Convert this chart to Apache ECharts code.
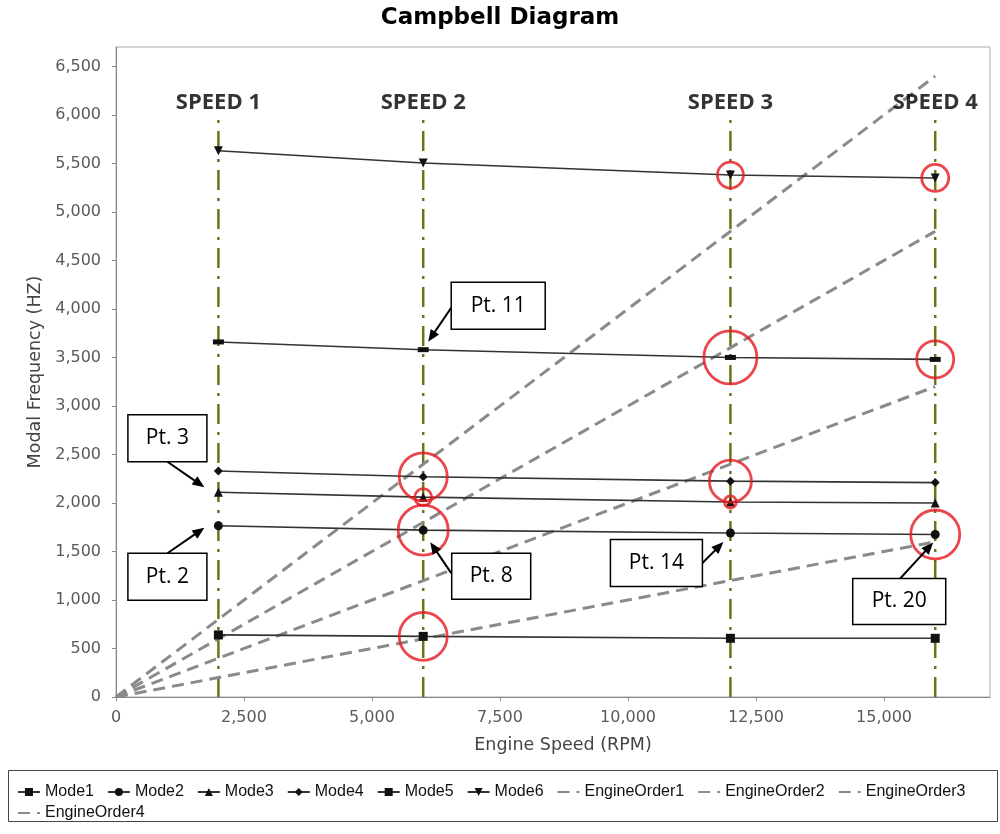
<!DOCTYPE html>
<html>
<head>
<meta charset="utf-8">
<title>Campbell Diagram</title>
<script src="https://cdn.jsdelivr.net/npm/echarts@6/dist/echarts.min.js"></script>
<style>
  html, body { margin: 0; padding: 0; background: #fff; }
  #chart { width: 1000px; height: 834px; }
</style>
</head>
<body>
<div id="chart"></div>
<script>
// engine speeds where the modes were computed (RPM)
const speeds = [2000, 6000, 12000, 16000]
const speedNames = ['SPEED 1', 'SPEED 2', 'SPEED 3', 'SPEED 4']
const speedLineTop = 5950

// modal frequencies (Hz) at each speed
const mode1 = [640, 625, 605, 605]
const mode2 = [1765, 1720, 1690, 1675]
const mode3 = [2110, 2060, 2010, 2000]
const mode4 = [2330, 2270, 2225, 2210]
const mode5 = [3660, 3580, 3500, 3480]
const mode6 = [5630, 5505, 5380, 5350]

// engine order lines (Hz at 0 and 16000 RPM)
const orderRpm = [0, 16000]
const order1 = [0, 1600]
const order2 = [0, 3200]
const order3 = [0, 4800]
const order4 = [0, 6400]

// circled crossings [rpm, hz]
const circled = [
  [6000, 625], [6000, 1720], [6000, 2060], [6000, 2270],
  [12000, 2010], [12000, 2225], [12000, 3500], [12000, 5380],
  [16000, 1675], [16000, 3480], [16000, 5350]
]

// callouts: text, which mode and which speed they point at
const calloutText = ['Pt. 2', 'Pt. 3', 'Pt. 8', 'Pt. 11', 'Pt. 14', 'Pt. 20']
const calloutMode = [1, 2, 1, 4, 1, 1]
const calloutSpeed = [0, 0, 1, 1, 2, 3]

const modes = [mode1, mode2, mode3, mode4, mode5, mode6]
const modeNames = ['Mode1', 'Mode2', 'Mode3', 'Mode4', 'Mode5', 'Mode6']
const orders = [order1, order2, order3, order4]
const orderNames = ['EngineOrder1', 'EngineOrder2', 'EngineOrder3', 'EngineOrder4']

// styling only
const modeSymbols = ['rect', 'circle', 'triangle', 'diamond', 'rect', 'triangle']
const modeSymbolSize = [9, 9, 9, 9, [11, 5], 9]
const modeSymbolRotate = [0, 0, 0, 0, 0, 180]
const ringSize = [48, 50, 17, 48, 12, 42, 53, 26, 49, 37, 27]
// box offset from target, box size, arrow tail offset from box centre, arrow head offset from target
const calloutGeom = [
  { off: [-51, 51], size: [79, 47], tail: [0, -23.5], head: [-14, 2] },
  { off: [-51, -54], size: [79, 47], tail: [0, 23.5], head: [-14, -5] },
  { off: [68, 46], size: [79, 46], tail: [-40, -3], head: [7, 12] },
  { off: [75, -44], size: [94, 47], tail: [-47, 2], head: [5, -8] },
  { off: [-74, 30], size: [92, 47], tail: [46, 0], head: [-7, 9] },
  { off: [-36, 67], size: [93, 46], tail: [1, -23], head: [-2, 8] }
]

const tickFont = 'DejaVu Sans'
const boxFont = 'Open Sans'

const chartDom = document.getElementById('chart')
const chart = echarts.init(chartDom, null, { renderer: 'canvas' })

const series = []

// speed marker lines
speeds.forEach((s, i) => {
  series.push({
    name: speedNames[i],
    type: 'line',
    data: [[s, 0], [s, speedLineTop]],
    symbol: 'none',
    silent: true,
    z: 1,
    lineStyle: { color: '#6a7418', width: 2.5, type: [20, 8, 3, 8] }
  })
})

// engine orders
orders.forEach((o, i) => {
  series.push({
    name: orderNames[i],
    type: 'line',
    data: orderRpm.map((r, j) => [r, o[j]]),
    symbol: 'none',
    z: 2,
    color: '#8a8a8a',
    lineStyle: { color: '#8a8a8a', width: 3, type: [12, 7] }
  })
})

// modes
modes.forEach((m, i) => {
  series.push({
    name: modeNames[i],
    type: 'line',
    data: speeds.map((s, j) => [s, m[j]]),
    symbol: modeSymbols[i],
    symbolSize: modeSymbolSize[i],
    symbolRotate: modeSymbolRotate[i],
    showSymbol: true,
    z: 3,
    color: '#1a1a1a',
    lineStyle: { color: '#333', width: 1.6 },
    itemStyle: { color: '#111' }
  })
})

// red rings
series.push({
  name: 'rings',
  type: 'scatter',
  z: 4,
  silent: true,
  data: circled,
  symbol: 'circle',
  symbolSize: (v, p) => ringSize[p.dataIndex],
  itemStyle: { color: 'rgba(0,0,0,0)', borderColor: '#e3191f', borderWidth: 2.8 }
})

// speed labels
series.push({
  name: 'speedLabels',
  type: 'scatter',
  z: 5,
  silent: true,
  data: speeds.map(s => [s, speedLineTop]),
  symbolSize: 0,
  label: {
    show: true,
    position: 'top',
    distance: 6,
    formatter: p => speedNames[p.dataIndex],
    color: '#000',
    fontFamily: boxFont,
    fontWeight: 'bold',
    fontSize: 22
  }
})

const legendText = { fontFamily: 'Liberation Sans', fontSize: 16, color: '#111' }
const hideDot = { opacity: 0 }

const option = {
  animation: false,
  backgroundColor: '#fff',
  title: {
    text: 'Campbell Diagram',
    left: 'center',
    top: 2,
    textStyle: { fontFamily: tickFont, fontWeight: 'bold', fontSize: 23, color: '#000' }
  },
  legend: [
    {
      data: modeNames.concat(orderNames.slice(0, 3).map(n => ({ name: n, itemStyle: hideDot }))),
      left: 12,
      top: 779,
      itemWidth: 22,
      itemHeight: 10,
      itemGap: 13,
      textStyle: legendText
    },
    {
      data: orderNames.slice(3).map(n => ({ name: n, itemStyle: hideDot })),
      left: 12,
      top: 800,
      itemWidth: 22,
      itemHeight: 10,
      textStyle: legendText
    }
  ],
  grid: {
    left: 116,
    right: 10,
    top: 47,
    bottom: 137,
    show: true,
    borderColor: '#aaa',
    borderWidth: 1,
    backgroundColor: '#fff'
  },
  xAxis: {
    type: 'value',
    min: 0,
    max: 17070,
    interval: 2500,
    offset: 5,
    name: 'Engine Speed (RPM)',
    nameLocation: 'middle',
    nameGap: 34,
    nameTextStyle: { fontFamily: tickFont, fontSize: 17.5, color: '#444', padding: [0, 0, 0, 20] },
    axisLine: { show: true, lineStyle: { color: '#888' } },
    axisTick: { show: true, length: 4, lineStyle: { color: '#888' } },
    axisLabel: {
      fontFamily: tickFont,
      fontSize: 16,
      color: '#5a5a5a',
      margin: 8,
      showMaxLabel: false,
      formatter: v => v.toLocaleString('en-US')
    },
    splitLine: { show: false }
  },
  yAxis: {
    type: 'value',
    min: 0,
    max: 6700,
    interval: 500,
    offset: 5,
    name: 'Modal Frequency (HZ)',
    nameLocation: 'middle',
    nameGap: 64,
    nameTextStyle: { fontFamily: tickFont, fontSize: 17.5, color: '#444' },
    axisLine: { show: true, lineStyle: { color: '#888' } },
    axisTick: { show: true, length: 4, lineStyle: { color: '#888' } },
    axisLabel: {
      fontFamily: tickFont,
      fontSize: 16,
      color: '#5a5a5a',
      margin: 10,
      showMaxLabel: false,
      formatter: v => v.toLocaleString('en-US')
    },
    splitLine: { show: false }
  },
  series: series
}

chart.setOption(option)

// annotations: legend frame, callout boxes and arrows
const graphics = [{
  type: 'rect',
  shape: { x: 8.5, y: 770.5, width: 989, height: 51 },
  style: { fill: 'none', stroke: '#444', lineWidth: 1 },
  z: 0
}]

const arrowHead = (tail, head) => {
  const dx = head[0] - tail[0]
  const dy = head[1] - tail[1]
  const len = Math.sqrt(dx * dx + dy * dy)
  const ux = dx / len
  const uy = dy / len
  const bx = head[0] - ux * 12
  const by = head[1] - uy * 12
  return [head, [bx - uy * 5, by + ux * 5], [bx + uy * 5, by - ux * 5]]
}

calloutText.forEach((t, i) => {
  const m = modes[calloutMode[i]]
  const s = calloutSpeed[i]
  const p = chart.convertToPixel({ gridIndex: 0 }, [speeds[s], m[s]])
  const g = calloutGeom[i]
  const cx = p[0] + g.off[0]
  const cy = p[1] + g.off[1]
  const tail = [cx + g.tail[0], cy + g.tail[1]]
  const head = [p[0] + g.head[0], p[1] + g.head[1]]
  const dx = head[0] - tail[0]
  const dy = head[1] - tail[1]
  const len = Math.sqrt(dx * dx + dy * dy)
  const lineEnd = [head[0] - dx / len * 10, head[1] - dy / len * 10]
  graphics.push({
    type: 'line',
    shape: { x1: tail[0], y1: tail[1], x2: lineEnd[0], y2: lineEnd[1] },
    style: { stroke: '#000', lineWidth: 2 },
    z: 20
  })
  graphics.push({
    type: 'polygon',
    shape: { points: arrowHead(tail, head) },
    style: { fill: '#000' },
    z: 20
  })
  graphics.push({
    type: 'rect',
    shape: { x: cx - g.size[0] / 2, y: cy - g.size[1] / 2, width: g.size[0], height: g.size[1] },
    style: { fill: '#fff', stroke: '#000', lineWidth: 1.5 },
    z: 21
  })
  graphics.push({
    type: 'text',
    x: cx,
    y: cy,
    style: {
      text: t,
      fill: '#000',
      font: '21px "' + boxFont + '"',
      align: 'center',
      verticalAlign: 'middle'
    },
    z: 22
  })
})

chart.setOption({ graphic: graphics })

window.addEventListener('resize', () => chart.resize())
</script>
</body>
</html>
